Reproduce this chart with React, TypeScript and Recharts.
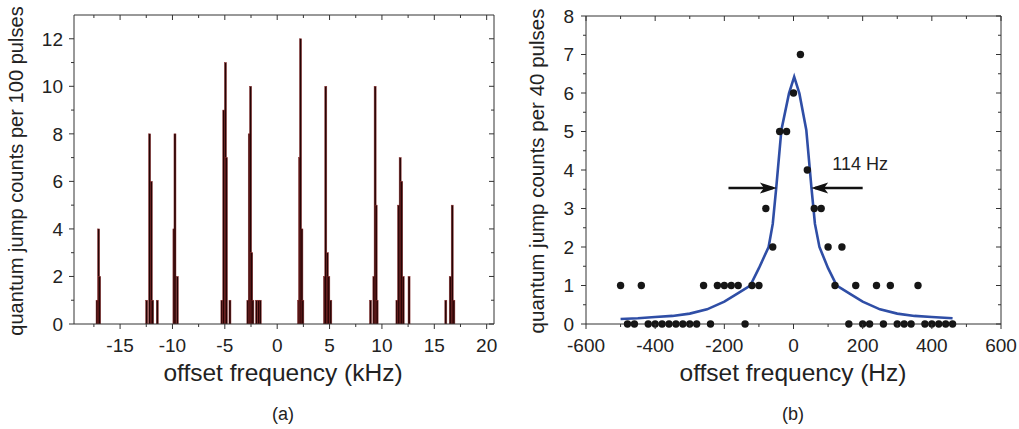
import { BarChart, Bar, ComposedChart, Line, Scatter, XAxis, YAxis, ReferenceLine } from 'recharts';

const FONT = '"Liberation Sans", Arial, Helvetica, sans-serif';
const INK = '#222';

// (a) histogram of quantum jumps vs offset frequency
const binKHz = [
  -17.2, -17.05, -16.95,
  -12.46, -12.18, -12.02, -11.89, -11.45,
  -9.86, -9.76, -9.54,
  -5.28, -5.1, -4.94, -4.85, -4.51,
  -2.8, -2.67, -2.54, -2.43, -2.32, -1.97, -1.77, -1.62,
  2.04, 2.14, 2.23, 2.36, 2.45,
  4.52, 4.64, 4.79, 4.93, 5.12,
  8.91, 9.23, 9.35, 9.45, 9.54,
  11.43, 11.59, 11.74, 11.89, 12.03, 12.59,
  16.1, 16.52, 16.71, 16.87,
];
const binCounts = [
  1, 4, 2,
  1, 8, 6, 1, 1,
  4, 8, 2,
  1, 9, 11, 7, 1,
  1, 8, 10, 3, 1, 1, 1, 1,
  1, 7, 12, 4, 1,
  2, 10, 3, 2, 1,
  1, 2, 10, 5, 1,
  1, 5, 7, 6, 2, 2,
  1, 2, 5, 1,
];
const kHzRange = [-19.4, 20.7];
const kHzTicks = [-17.5, -15, -12.5, -10, -7.5, -5, -2.5, 0, 2.5, 5, 7.5, 10, 12.5, 15, 17.5, 20];
const countTicksA = [0, 1, 2, 3, 4, 5, 6, 7, 8, 9, 10, 11, 12];

// (b) single resonance with Lorentzian fit
const pointHz = [
  -500, -440, -260, -220, -200, -180, -160, -120, -100, 120, 180, 240, 280, 360,
  -480, -460, -420, -400, -380, -360, -340, -320, -300, -280, -240, -140,
  160, 200, 220, 260, 300, 320, 340, 380, 400, 420, 440, 460,
  -60, 100, 140, -80, 60, 80, 40, -40, -20, 0, 20,
];
const pointCounts = [
  1, 1, 1, 1, 1, 1, 1, 1, 1, 1, 1, 1, 1, 1,
  0, 0, 0, 0, 0, 0, 0, 0, 0, 0, 0, 0,
  0, 0, 0, 0, 0, 0, 0, 0, 0, 0, 0, 0,
  2, 2, 2, 3, 3, 3, 4, 5, 5, 6, 7,
];
const fitHz = [-500, -450, -400, -350, -300, -250, -200, -160, -125, -100, -72, -60, -50, -35, -13, 2, 17, 37, 52, 62, 75, 100, 125, 160, 200, 250, 300, 350, 400, 460];
const fitCounts = [0.13, 0.15, 0.18, 0.21, 0.27, 0.38, 0.58, 0.8, 1.0, 1.45, 2.0, 2.6, 3.53, 5.04, 5.99, 6.42, 5.99, 5.04, 3.53, 2.6, 2.0, 1.45, 1.0, 0.8, 0.58, 0.38, 0.27, 0.21, 0.18, 0.15];
const hzTicks = [-600, -500, -400, -300, -200, -100, 0, 100, 200, 300, 400, 500, 600];
const countTicksB = [0, 0.5, 1, 1.5, 2, 2.5, 3, 3.5, 4, 4.5, 5, 5.5, 6, 6.5, 7, 7.5, 8];
const arrowY = 3.53;
const arrowLeft = [-188, -60];
const arrowRight = [200, 62];
const widthLabel = '114 Hz';

const bins = binKHz.map((x, i) => ({ x, count: binCounts[i] }));
const points = pointHz.map((x, i) => ({ x, y: pointCounts[i] }));
const fit = fitHz.map((x, i) => ({ x, y: fitCounts[i] }));
const heads = [
  { x: -48, y: arrowY, dir: 1 },
  { x: 51, y: arrowY, dir: -1 },
];
const labelPos = [{ x: 112, y: 4.17 }];

const TS = 5;
const XM = 10;

const makeXTick = (plotH: number, margin: number, isMajor: (v: number) => boolean) => (props: any) => {
  const { x, y, payload } = props;
  const v = payload.value;
  const axisY = y - TS - margin;
  const major = isMajor(v);
  const len = major ? 5 : 3;
  return (
    <g>
      <line x1={x} x2={x} y1={axisY} y2={axisY + len} stroke="#333" />
      <line x1={x} x2={x} y1={axisY - plotH} y2={axisY - plotH + len} stroke="#333" />
      {major && (
        <text x={x} y={y} dy="0.71em" textAnchor="middle" fontFamily={FONT} fontSize={19} fill={INK}>
          {v}
        </text>
      )}
    </g>
  );
};

const makeYTick = (plotW: number, margin: number, isMajor: (v: number) => boolean) => (props: any) => {
  const { x, y, payload } = props;
  const v = payload.value;
  const axisX = x + TS + margin;
  const major = isMajor(v);
  const len = major ? 5 : 3;
  return (
    <g>
      <line x1={axisX - len} x2={axisX} y1={y} y2={y} stroke="#333" />
      <line x1={axisX + plotW - len} x2={axisX + plotW} y1={y} y2={y} stroke="#333" />
      {major && (
        <text x={x} y={y} dy="0.355em" textAnchor="end" fontFamily={FONT} fontSize={19} fill={INK}>
          {v}
        </text>
      )}
    </g>
  );
};

const BinBar = (props: any) => {
  const { x, y, width, height } = props;
  if (!height || height <= 0) return <g />;
  return <rect x={x + width / 2 - 1} y={y} width={2} height={height} fill="#240404" stroke="#8a2b2b" strokeWidth={0.5} />;
};

const Dot = (props: any) => <circle cx={props.cx} cy={props.cy} r={3.7} fill="#161616" />;

const Head = (props: any) => {
  const { cx, cy, payload } = props;
  const d = payload.dir;
  return <polygon points={`${cx},${cy} ${cx - 17 * d},${cy - 5.5} ${cx - 13 * d},${cy} ${cx - 17 * d},${cy + 5.5}`} fill="#111" />;
};

const WidthText = (props: any) => (
  <text x={props.cx} y={props.cy} dy="0.36em" fontFamily={FONT} fontSize={18} fill={INK}>
    {widthLabel}
  </text>
);

const xTickA = makeXTick(309, XM, (v) => v % 5 === 0);
const yTickA = makeYTick(420, 6, (v) => v % 2 === 0);
const xTickB = makeXTick(308, XM, (v) => v % 200 === 0);
const yTickB = makeYTick(415, 7, (v) => Number.isInteger(v));

export default function App() {
  return (
    <div style={{ position: 'absolute', left: 0, top: 0, width: 1019, height: 429, background: '#fff' }}>
      <div style={{ position: 'absolute', left: 0, top: 0 }}>
        <BarChart width={510} height={380} data={bins} margin={{ top: 15, right: 16, left: 0, bottom: 0 }}>
          <XAxis dataKey="x" type="number" domain={kHzRange} ticks={kHzTicks} interval={0} tickSize={TS} tickMargin={XM} tickLine={false} tick={xTickA} height={56} stroke="#333" allowDataOverflow />
          <YAxis type="number" domain={[0, 13]} ticks={countTicksA} interval={0} width={74} tickSize={TS} tickMargin={6} tickLine={false} tick={yTickA} stroke="#333" allowDataOverflow />
          <ReferenceLine y={13} stroke="#333" />
          <ReferenceLine x={kHzRange[1]} stroke="#333" />
          <Bar dataKey="count" isAnimationActive={false} shape={BinBar} />
        </BarChart>
      </div>
      <div style={{ position: 'absolute', left: 510, top: 0 }}>
        <ComposedChart width={509} height={380} margin={{ top: 16, right: 18, left: 0, bottom: 0 }}>
          <XAxis dataKey="x" type="number" domain={[-600, 600]} ticks={hzTicks} interval={0} tickSize={TS} tickMargin={XM} tickLine={false} tick={xTickB} height={56} stroke="#333" />
          <YAxis dataKey="y" type="number" domain={[0, 8]} ticks={countTicksB} interval={0} width={76} tickSize={TS} tickMargin={7} tickLine={false} tick={yTickB} stroke="#333" />
          <ReferenceLine y={8} stroke="#333" />
          <ReferenceLine x={600} stroke="#333" />
          <Line data={fit} dataKey="y" type="linear" stroke="#2f4ea6" strokeWidth={2.6} dot={false} isAnimationActive={false} />
          <Scatter data={points} dataKey="y" shape={Dot} isAnimationActive={false} />
          <ReferenceLine segment={[{ x: arrowLeft[0], y: arrowY }, { x: arrowLeft[1], y: arrowY }]} stroke="#111" strokeWidth={2.5} />
          <ReferenceLine segment={[{ x: arrowRight[0], y: arrowY }, { x: arrowRight[1], y: arrowY }]} stroke="#111" strokeWidth={2.5} />
          <Scatter data={heads} dataKey="y" shape={Head} isAnimationActive={false} />
          <Scatter data={labelPos} dataKey="y" shape={WidthText} isAnimationActive={false} />
        </ComposedChart>
      </div>
      <svg width={1019} height={429} style={{ position: 'absolute', left: 0, top: 0, pointerEvents: 'none' }}>
        <g fontFamily={FONT} fill={INK}>
          <text transform="translate(23,171) rotate(-90)" textAnchor="middle" fontSize={20.1}>quantum jump counts per 100 pulses</text>
          <text transform="translate(544,171) rotate(-90)" textAnchor="middle" fontSize={20.5}>quantum jump counts per 40 pulses</text>
          <text x={283} y={381} textAnchor="middle" fontSize={24.5}>offset frequency (kHz)</text>
          <text x={793} y={381} textAnchor="middle" fontSize={24.5}>offset frequency (Hz)</text>
          <text x={283} y={420} textAnchor="middle" fontSize={18}>(a)</text>
          <text x={793} y={420} textAnchor="middle" fontSize={18}>(b)</text>
        </g>
      </svg>
    </div>
  );
}
